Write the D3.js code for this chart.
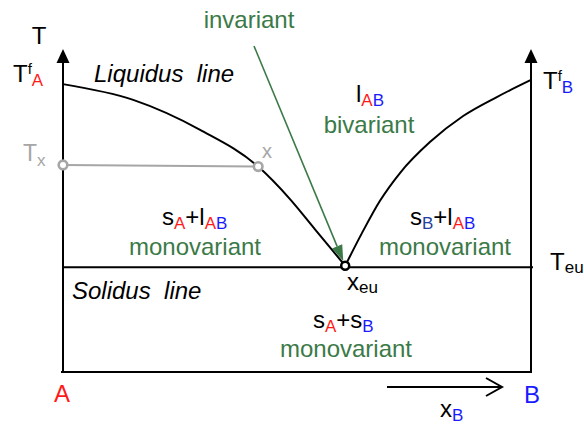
<!DOCTYPE html>
<html>
<head>
<meta charset="utf-8">
<script src="https://cdn.jsdelivr.net/npm/d3@7/dist/d3.min.js"></script>
<style>
  html, body { margin: 0; padding: 0; background: #fff; }
  svg { display: block; font-family: "Liberation Sans", Arial, sans-serif; }
</style>
</head>
<body>
<svg id="chart" width="584" height="426"></svg>
<script>
// Binary eutectic phase diagram A–B: composition xB (0..1) vs temperature T (relative units)
const liquidusA = [[0, 89.4], [0.150, 84.5], [0.293, 75.2], [0.417, 63.8], [0.485, 53.7], [0.538, 44.4], [0.603, 33.0]];
const liquidusB = [[0.603, 33.0], [0.639, 43.2], [0.677, 53.1], [0.720, 61.8], [0.784, 71.4], [0.855, 79.5], [0.927, 85.4], [1, 90.7]];
const eutectic = { x: 0.603, T: 33.0 };
const tieLine = [[0, 64.3], [0.417, 63.8]];
const axisTop = 100;

const RED = "#ff1a1a", BLUE = "#1a1aff", NAVY = "#24409c", GREEN = "#3b7a47", GRAY = "#a6a6a6";

const svg = d3.select("#chart");
const x = d3.scaleLinear().domain([0, 1]).range([63, 531]);
const y = d3.scaleLinear().domain([0, axisTop]).range([372, 50]);

const line = d3.line().x(d => x(d[0])).y(d => y(d[1])).curve(d3.curveMonotoneX);

// frame: bottom edge and two temperature axes with arrowheads
svg.append("line").attr("x1", x(0) - 2).attr("x2", x(1) + 1).attr("y1", y(0)).attr("y2", y(0))
  .attr("stroke", "#000").attr("stroke-width", 2);
[0, 1].forEach(v => {
  svg.append("line").attr("x1", x(v)).attr("x2", x(v)).attr("y1", y(0)).attr("y2", y(axisTop) + 12)
    .attr("stroke", "#000").attr("stroke-width", 2);
  const tx = x(v), ty = y(axisTop) - 1;
  svg.append("path").attr("d", `M${tx},${ty} L${tx - 6.5},${ty + 14} L${tx + 6.5},${ty + 14} Z`).attr("fill", "#000");
});

// eutectic (solidus) horizontal line
svg.append("line").attr("x1", x(0)).attr("x2", x(1) + 2).attr("y1", y(eutectic.T) + 1.5).attr("y2", y(eutectic.T) + 1.5)
  .attr("stroke", "#000").attr("stroke-width", 2);

// liquidus branches
[liquidusA, liquidusB].forEach(d => {
  svg.append("path").datum(d).attr("d", line).attr("fill", "none").attr("stroke", "#000").attr("stroke-width", 2);
});

// tie line at Tx
svg.append("line").attr("x1", x(tieLine[0][0])).attr("y1", y(tieLine[0][1]))
  .attr("x2", x(tieLine[1][0])).attr("y2", y(tieLine[1][1]))
  .attr("stroke", GRAY).attr("stroke-width", 2);
tieLine.forEach(p => {
  svg.append("circle").attr("cx", x(p[0])).attr("cy", y(p[1])).attr("r", 4.3)
    .attr("fill", "#fff").attr("stroke", GRAY).attr("stroke-width", 2.6);
});

// "invariant" pointer towards the eutectic point
(function () {
  const x0 = 254, y0 = 46;
  const ex = x(eutectic.x), ey = y(eutectic.T);
  const ang = Math.atan2(ey - y0, ex - x0);
  const tipX = ex - Math.cos(ang) * 5, tipY = ey - Math.sin(ang) * 5;
  const len = 16, hw = 5.5;
  const bx = tipX - Math.cos(ang) * len, by = tipY - Math.sin(ang) * len;
  const nx = -Math.sin(ang), ny = Math.cos(ang);
  svg.append("line").attr("x1", x0).attr("y1", y0).attr("x2", bx).attr("y2", by)
    .attr("stroke", GREEN).attr("stroke-width", 1.6);
  svg.append("path").attr("d", `M${tipX},${tipY} L${bx + nx * hw},${by + ny * hw} L${bx - nx * hw},${by - ny * hw} Z`)
    .attr("fill", GREEN);
})();

// eutectic point
svg.append("circle").attr("cx", x(eutectic.x)).attr("cy", y(eutectic.T)).attr("r", 4)
  .attr("fill", "#fff").attr("stroke", "#000").attr("stroke-width", 2.5);

// composition arrow
svg.append("line").attr("x1", 387).attr("x2", 501).attr("y1", 387).attr("y2", 387).attr("stroke", "#000").attr("stroke-width", 2);
svg.append("path").attr("d", "M486,378 L502,387 L486,396").attr("fill", "none").attr("stroke", "#000").attr("stroke-width", 2);

// text with sub/superscripts; each part: [text, size, baseline offset, colour]
function rich(px, py, parts, opts = {}) {
  const t = svg.append("text").attr("x", px).attr("y", py)
    .attr("text-anchor", opts.anchor || "start")
    .attr("font-style", opts.italic ? "italic" : "normal");
  let prev = 0;
  parts.forEach(([s, size, off, col]) => {
    t.append("tspan").attr("dy", off - prev).attr("font-size", size).attr("fill", col || "#000").text(s);
    prev = off;
  });
  return t;
}
const M = 24, S = 17;

rich(39, 44, [["T", M, 0]], { anchor: "middle" });
rich(13, 82, [["T", M, 0], ["f", 15, -8], ["A", S, 4, RED]]);
rich(543, 89, [["T", M, 0], ["f", 15, -8], ["B", S, 4, BLUE]]);
rich(94, 82, [["Liquidus  line", M, 0]], { italic: true }).attr("xml:space", "preserve");
rich(72, 299, [["Solidus  line", M, 0]], { italic: true }).attr("xml:space", "preserve");
rich(249, 28, [["invariant", M, 0, GREEN]], { anchor: "middle" });
rich(356, 102, [["l", M, 0], ["A", S, 4, RED], ["B", S, 4, BLUE]]);
rich(369, 133, [["bivariant", M, 0, GREEN]], { anchor: "middle" });
rich(162, 225, [["s", M, 0], ["A", S, 4, RED], ["+l", M, 0], ["A", S, 4, RED], ["B", S, 4, BLUE]]);
rich(195, 255, [["monovariant", M, 0, GREEN]], { anchor: "middle" });
rich(410, 225, [["s", M, 0], ["B", S, 4, NAVY], ["+l", M, 0], ["A", S, 4, RED], ["B", S, 4, BLUE]]);
rich(445, 255, [["monovariant", M, 0, GREEN]], { anchor: "middle" });
rich(313, 328, [["s", M, 0], ["A", S, 4, RED], ["+s", M, 0], ["B", S, 4, BLUE]]);
rich(346, 357, [["monovariant", M, 0, GREEN]], { anchor: "middle" });
rich(550, 270, [["T", M, 0], ["eu", S, 3]]);
rich(347, 290, [["x", M, 0], ["eu", S, 3]]);
rich(23, 161, [["T", 23, 0, GRAY], ["x", S, 5, GRAY]]);
rich(262, 158, [["x", 20, 0, GRAY]]);
rich(62, 402, [["A", M, 0, RED]], { anchor: "middle" });
rich(532, 403, [["B", M, 0, BLUE]], { anchor: "middle" });
rich(440, 417, [["x", M, 0], ["B", S, 4, BLUE]]);
</script>
</body>
</html>
